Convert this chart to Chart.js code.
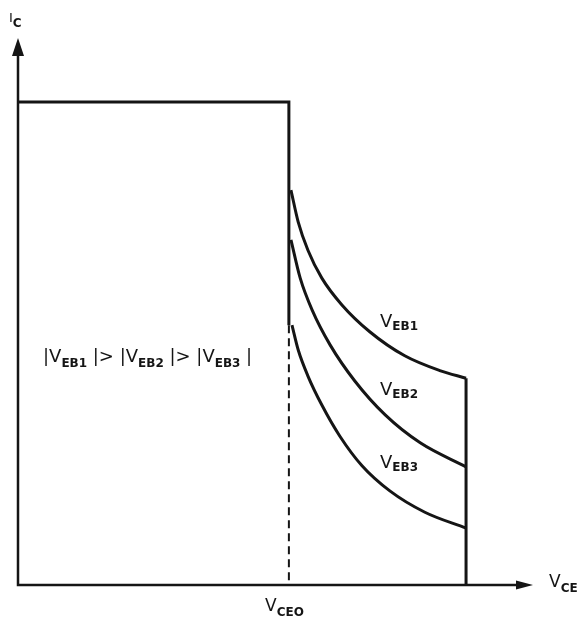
<!DOCTYPE html>
<html>
<head>
<meta charset="utf-8">
<script src="https://cdn.jsdelivr.net/npm/chart.js@4"></script>
<style>
html, body { margin: 0; padding: 0; background: #fff; }
#wrap { width: 581px; height: 622px; }
</style>
</head>
<body>
<div id="wrap"><canvas id="chart"></canvas></div>
<script>
// Values, axis units 0..100 on both axes
const icMax = 88.3;      // flat current limit
const vCeo = 52.6;       // V_CEO position
const vEnd = 87.0;       // right edge of the curves

const eb1X = [53.0, 54.4, 56.3, 59.0, 62.9, 68.3, 75.1, 81.9, 87.0];
const eb1Y = [72.2, 66.4, 61.2, 56.1, 51.2, 46.3, 41.9, 39.2, 37.8];
const eb2X = [53.0, 54.8, 57.1, 60.6, 65.4, 71.3, 78.1, 87.0];
const eb2Y = [63.1, 56.1, 50.3, 43.9, 37.3, 31.1, 26.0, 21.6];
const eb3X = [53.2, 54.4, 56.3, 59.0, 62.5, 66.8, 72.2, 79.0, 87.0];
const eb3Y = [47.5, 43.0, 38.2, 32.9, 27.2, 21.8, 17.2, 13.3, 10.4];

const toPts = (xs, ys) => xs.map((x, i) => ({ x: x, y: ys[i] }));

const INK = '#151515';
const FAMILY = '"DejaVu Sans", "Liberation Sans", sans-serif';

// draws text made of normal and subscript runs
function drawRuns(ctx, x, y, runs, mainPx, subPx, drop) {
    runs.forEach(r => {
        ctx.font = r.sub ? ('bold ' + subPx + 'px ' + FAMILY) : (mainPx + 'px ' + FAMILY);
        ctx.fillText(r.t, x, y + (r.sub ? drop : 0));
        x += ctx.measureText(r.t).width;
    });
}

const annotations = {
    id: 'annotations',
    afterDatasetsDraw(chart) {
        const ctx = chart.ctx;
        const xs = chart.scales.x, ys = chart.scales.y;
        const x0 = xs.getPixelForValue(0), y0 = ys.getPixelForValue(0);
        const xTip = xs.getPixelForValue(100), yTip = ys.getPixelForValue(100);

        ctx.save();
        ctx.strokeStyle = INK;
        ctx.fillStyle = INK;
        ctx.lineWidth = 2.5;

        // axes
        ctx.beginPath();
        ctx.moveTo(x0, yTip + 10);
        ctx.lineTo(x0, y0);
        ctx.lineTo(xTip - 10, y0);
        ctx.stroke();

        // arrow heads
        ctx.beginPath();
        ctx.moveTo(x0, yTip);
        ctx.lineTo(x0 - 6, yTip + 18);
        ctx.lineTo(x0 + 6, yTip + 18);
        ctx.closePath();
        ctx.fill();
        ctx.beginPath();
        ctx.moveTo(xTip, y0);
        ctx.lineTo(xTip - 17, y0 - 4.5);
        ctx.lineTo(xTip - 17, y0 + 4.5);
        ctx.closePath();
        ctx.fill();

        ctx.textBaseline = 'alphabetic';
        ctx.textAlign = 'left';

        drawRuns(ctx, 9, 22, [{ t: 'I' }, { t: 'C', sub: true }], 13, 12, 5);
        drawRuns(ctx, 549, 587, [{ t: 'V' }, { t: 'CE', sub: true }], 17, 12, 5);
        drawRuns(ctx, 265, 611, [{ t: 'V' }, { t: 'CEO', sub: true }], 17, 12, 5);

        drawRuns(ctx, 380, 327, [{ t: 'V' }, { t: 'EB1', sub: true }], 18, 12, 3);
        drawRuns(ctx, 380, 395, [{ t: 'V' }, { t: 'EB2', sub: true }], 18, 12, 3);
        drawRuns(ctx, 380, 468, [{ t: 'V' }, { t: 'EB3', sub: true }], 18, 12, 3);

        drawRuns(ctx, 43, 362, [
            { t: '|V' }, { t: 'EB1', sub: true },
            { t: ' |> |V' }, { t: 'EB2', sub: true },
            { t: ' |> |V' }, { t: 'EB3', sub: true },
            { t: ' |' }
        ], 18, 12, 5);
        ctx.restore();
    }
};

const lineStyle = {
    borderColor: INK,
    borderWidth: 3,
    pointRadius: 0,
    showLine: true,
    fill: false
};

new Chart(document.getElementById('chart'), {
    type: 'scatter',
    data: {
        datasets: [
            Object.assign({ label: 'limit', data: [{ x: 0, y: icMax }, { x: vCeo, y: icMax }, { x: vCeo, y: eb3Y[0] }], tension: 0 }, lineStyle),
            Object.assign({ label: 'vceo', data: [{ x: vCeo, y: eb3Y[0] }, { x: vCeo, y: 0 }], tension: 0 }, lineStyle, { borderWidth: 2, borderDash: [8, 5] }),
            Object.assign({ label: 'end', data: [{ x: vEnd, y: eb1Y[eb1Y.length - 1] }, { x: vEnd, y: 0 }], tension: 0 }, lineStyle),
            Object.assign({ label: 'VEB1', data: toPts(eb1X, eb1Y), cubicInterpolationMode: 'monotone' }, lineStyle),
            Object.assign({ label: 'VEB2', data: toPts(eb2X, eb2Y), cubicInterpolationMode: 'monotone' }, lineStyle),
            Object.assign({ label: 'VEB3', data: toPts(eb3X, eb3Y), cubicInterpolationMode: 'monotone' }, lineStyle)
        ]
    },
    options: {
        responsive: true,
        maintainAspectRatio: false,
        animation: false,
        layout: { padding: { left: 18, right: 48, top: 38, bottom: 37 } },
        plugins: {
            legend: { display: false },
            tooltip: { enabled: false }
        },
        scales: {
            x: { type: 'linear', min: 0, max: 100, display: false },
            y: { type: 'linear', min: 0, max: 100, display: false }
        }
    },
    plugins: [annotations]
});
</script>
</body>
</html>
